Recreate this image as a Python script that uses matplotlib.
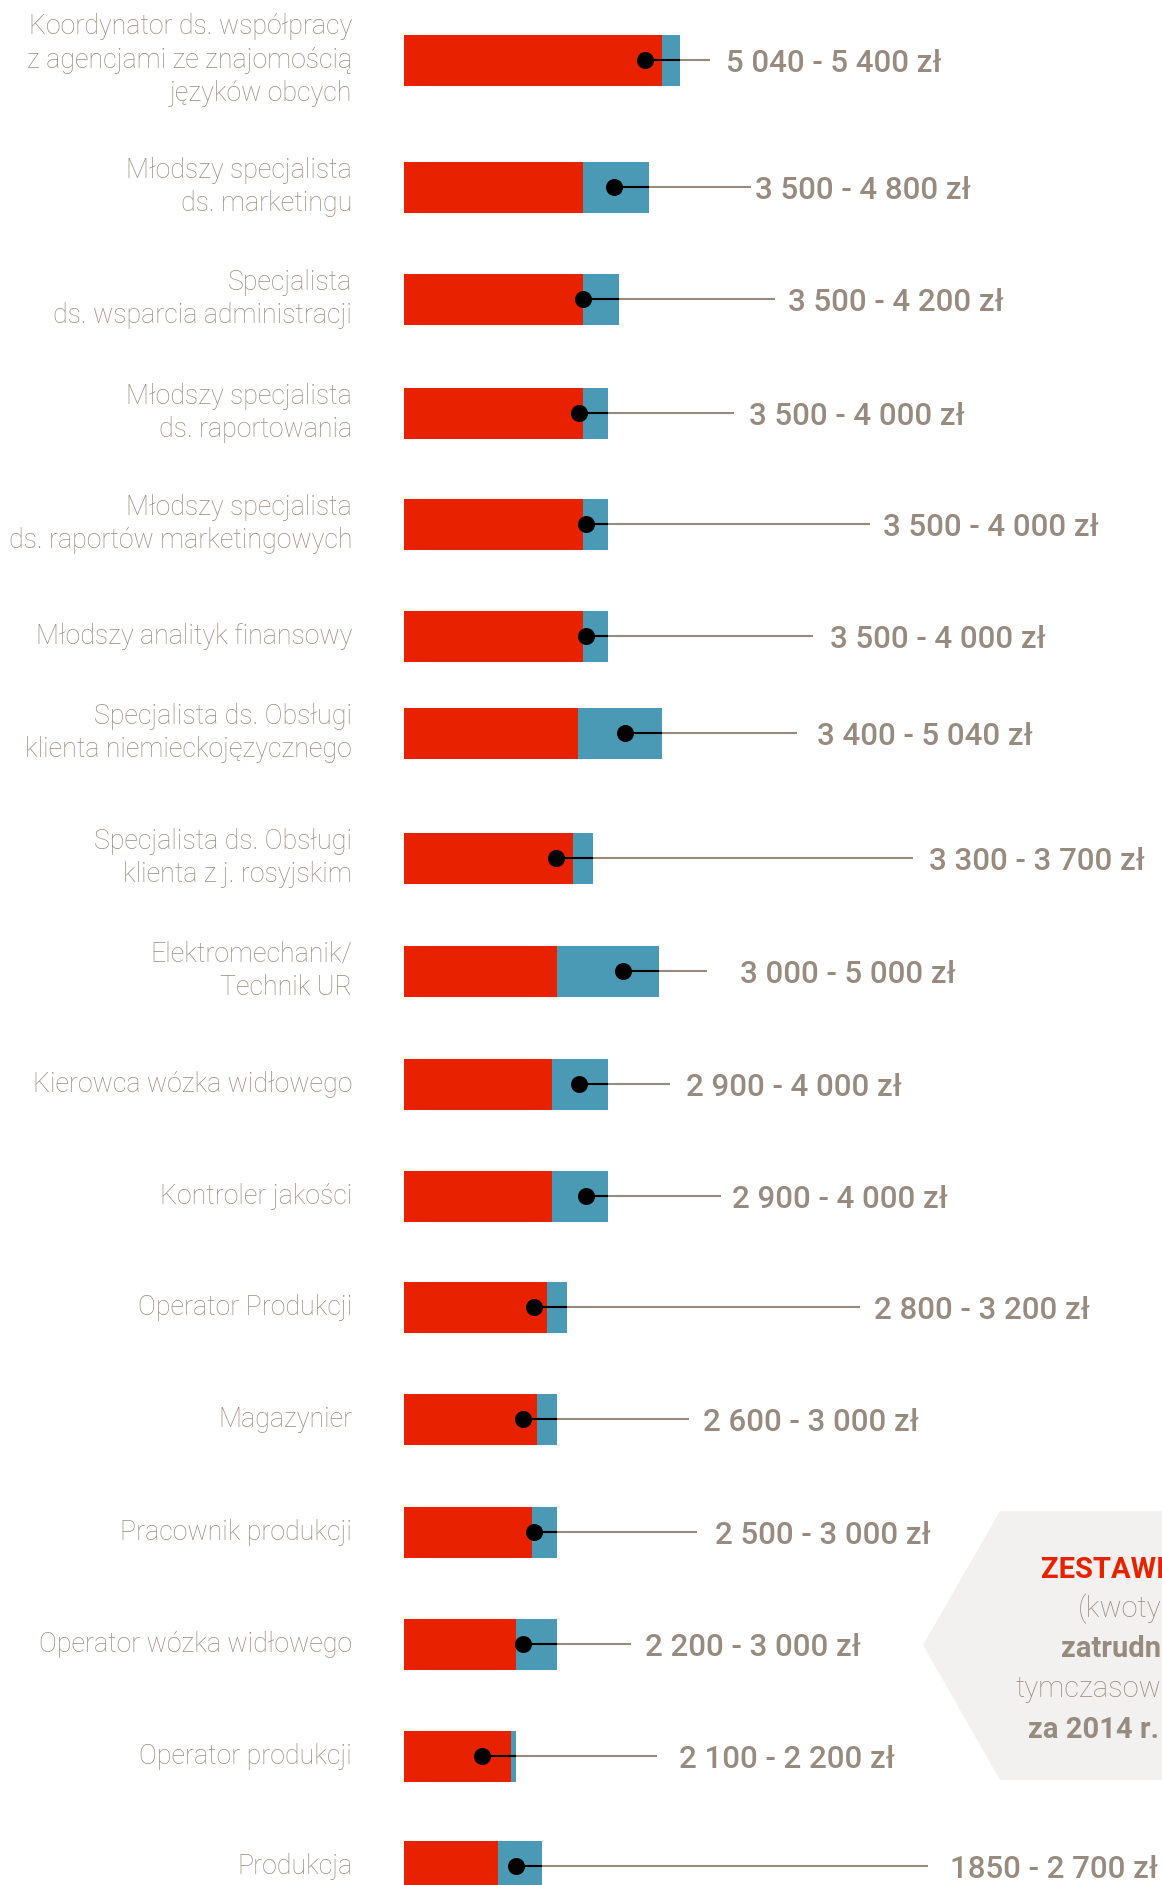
import matplotlib
matplotlib.use("Agg")
import matplotlib.pyplot as plt
from matplotlib.patches import Polygon

plt.rcParams['font.family'] = ['Roboto', 'DejaVu Sans']

# ---------------- data ----------------
categories = [
    "Koordynator ds. współpracy\nz agencjami ze znajomością\njęzyków obcych",
    "Młodszy specjalista\nds. marketingu",
    "Specjalista\nds. wsparcia administracji",
    "Młodszy specjalista\nds. raportowania",
    "Młodszy specjalista\nds. raportów marketingowych",
    "Młodszy analityk finansowy",
    "Specjalista ds. Obsługi\nklienta niemieckojęzycznego",
    "Specjalista ds. Obsługi\nklienta z j. rosyjskim",
    "Elektromechanik/\nTechnik UR",
    "Kierowca wózka widłowego",
    "Kontroler jakości",
    "Operator Produkcji",
    "Magazynier",
    "Pracownik produkcji",
    "Operator wózka widłowego",
    "Operator produkcji",
    "Produkcja",
]
salary_min = [5040, 3500, 3500, 3500, 3500, 3500, 3400, 3300, 3000, 2900, 2900,
              2800, 2600, 2500, 2200, 2100, 1850]
salary_max = [5400, 4800, 4200, 4000, 4000, 4000, 5040, 3700, 5000, 4000, 4000,
              3200, 3000, 3000, 3000, 2200, 2700]
salary_dot = [4720, 4110, 3500, 3430, 3570, 3570, 4320, 2985, 4280, 3430, 3570,
              2540, 2330, 2540, 2330, 1530, 2190]
range_labels = ["5 040 - 5 400 zł", "3 500 - 4 800 zł", "3 500 - 4 200 zł",
                "3 500 - 4 000 zł", "3 500 - 4 000 zł", "3 500 - 4 000 zł",
                "3 400 - 5 040 zł", "3 300 - 3 700 zł", "3 000 - 5 000 zł",
                "2 900 - 4 000 zł", "2 900 - 4 000 zł", "2 800 - 3 200 zł",
                "2 600 - 3 000 zł", "2 500 - 3 000 zł", "2 200 - 3 000 zł",
                "2 100 - 2 200 zł", "1850 - 2 700 zł"]
panel_lines = ["ZESTAWI", "(kwoty", "zatrudn", "tymczasow", "za 2014 r."]

# ---------------- layout ----------------
W, H = 1162, 1885
row_y = [60, 187, 299, 413, 524, 636, 733, 858, 971, 1084, 1196, 1307, 1419,
         1532, 1644, 1756, 1866]                       # pixel rows
leader_end = [5990, 6790, 7260, 6460, 9120, 8010, 7685, 9965, 5920, 5215, 6205,
              8930, 5570, 5735, 4440, 4960, 10250]     # in axis units (zł)
label_x = [6300, 6865, 7520, 6745, 9375, 8345, 8085, 10270, 6580, 5525, 6415,
           9190, 5850, 6090, 4725, 5385, 10690]
px_per_zl = 0.051132
bar_left_px = 403.8

RED = "#e82100"
BLUE = "#4a9ab5"
GRAY = "#978b80"
PANEL = "#f2f1ef"

fig = plt.figure(figsize=(W / 100, H / 100), dpi=100)
ax = fig.add_axes([0, 0, 1, 1])
ax.set_xlim(-bar_left_px / px_per_zl, (W - bar_left_px) / px_per_zl)
ax.set_ylim(H, 0)
ax.axis("off")

bar_h = 51
ax.barh(row_y, salary_max, height=bar_h, color=BLUE, zorder=2)
ax.barh(row_y, salary_min, height=bar_h, color=RED, zorder=3)

for i, y in enumerate(row_y):
    ax.plot([salary_dot[i], leader_end[i]], [y, y], color=GRAY, lw=1.5,
            solid_capstyle="butt", zorder=4)
    ax.plot([salary_dot[i], salary_max[i]], [y, y], color="black", lw=1.5,
            solid_capstyle="butt", zorder=5)
    ax.text(label_x[i], y + 11.5, range_labels[i], fontsize=22.5, fontweight="medium",
            color=GRAY, ha="left", va="baseline", zorder=6)
    ax.text(-1010, y, categories[i], fontsize=19.3, fontweight="light", color=GRAY,
            ha="right", va="center", linespacing=1.3, zorder=6)

ax.scatter(salary_dot, row_y, s=150, color="black", zorder=7, linewidths=0)

# side panel
pts = [(1000, 1511), (923, 1645), (1000, 1780), (W, 1780), (W, 1511)]
poly = Polygon([(x / W, 1 - y / H) for x, y in pts], closed=True,
               transform=fig.transFigure, facecolor=PANEL, edgecolor="none", zorder=0)
ax.add_patch(poly)

panel_specs = [
    (1041, 1578, RED, "bold"),
    (1078, 1617, GRAY, "light"),
    (1061, 1657, GRAY, "bold"),
    (1015, 1697, GRAY, "light"),
    (1028, 1738, GRAY, "bold"),
]
for txt, (px, py, col, wt) in zip(panel_lines, panel_specs):
    fig.text(px / W, 1 - py / H, txt, fontsize=21, color=col, fontweight=wt,
             ha="left", va="baseline")

fig.savefig("out.png", dpi=100)
